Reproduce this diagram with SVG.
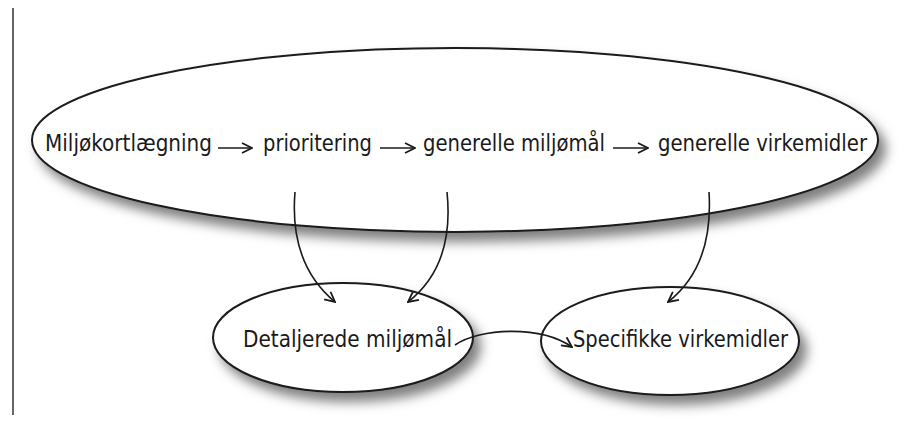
<svg xmlns="http://www.w3.org/2000/svg" width="923" height="423" viewBox="0 0 923 423">
<style>
.shape{fill:#fff;stroke:#1a1a1a;stroke-width:2;filter:url(#sh)}
.lbl{font-family:"DejaVu Sans","Liberation Sans",sans-serif;font-size:23px;fill:#1a1a1a}
.con{fill:none;stroke:#1a1a1a;stroke-width:1.6;marker-end:url(#ah)}
</style>
<defs>
<filter id="sh" x="-10%" y="-20%" width="125%" height="150%">
<feDropShadow dx="7" dy="9" stdDeviation="6" flood-color="#000" flood-opacity="0.5"/>
</filter>
<marker id="ah" viewBox="0 0 12 12" refX="11" refY="6" markerWidth="12" markerHeight="12" markerUnits="userSpaceOnUse" orient="auto">
<path d="M1,1 L11,6 L1,11" fill="none" stroke="#1a1a1a" stroke-width="1.8"/>
</marker>
</defs>
<line x1="13" y1="8" x2="13" y2="415" stroke="#333" stroke-width="1.5"/>
<g id="process">
<ellipse class="shape" cx="455" cy="140" rx="423" ry="92"/>
<text class="lbl" x="45" y="151" textLength="167" lengthAdjust="spacingAndGlyphs">Miljøkortlægning</text>
<text class="lbl" x="263" y="151" textLength="109" lengthAdjust="spacingAndGlyphs">prioritering</text>
<text class="lbl" x="423" y="151" textLength="182" lengthAdjust="spacingAndGlyphs">generelle miljømål</text>
<text class="lbl" x="658" y="151" textLength="209" lengthAdjust="spacingAndGlyphs">generelle virkemidler</text>
</g>
<g id="detaljerede">
<ellipse class="shape" cx="343" cy="337.5" rx="130" ry="54.5"/>
<text class="lbl" x="243" y="347" textLength="209" lengthAdjust="spacingAndGlyphs">Detaljerede miljømål</text>
</g>
<g id="specifikke">
<ellipse class="shape" cx="670" cy="341" rx="129" ry="54"/>
<text class="lbl" x="573" y="347" textLength="215" lengthAdjust="spacingAndGlyphs">Specifikke virkemidler</text>
</g>
<g id="connectors">
<path class="con" d="M218,148 L252,148"/>
<path class="con" d="M380,148 L415,148"/>
<path class="con" d="M613,148 L648,148"/>
<path class="con" d="M295,192 C291,240 305,277 335,302"/>
<path class="con" d="M447,192 C452,240 440,277 408,302"/>
<path class="con" d="M709,192 C712,240 700,277 668,302"/>
<path class="con" d="M455,345 C480,328 540,325 572,347"/>
</g>
</svg>
